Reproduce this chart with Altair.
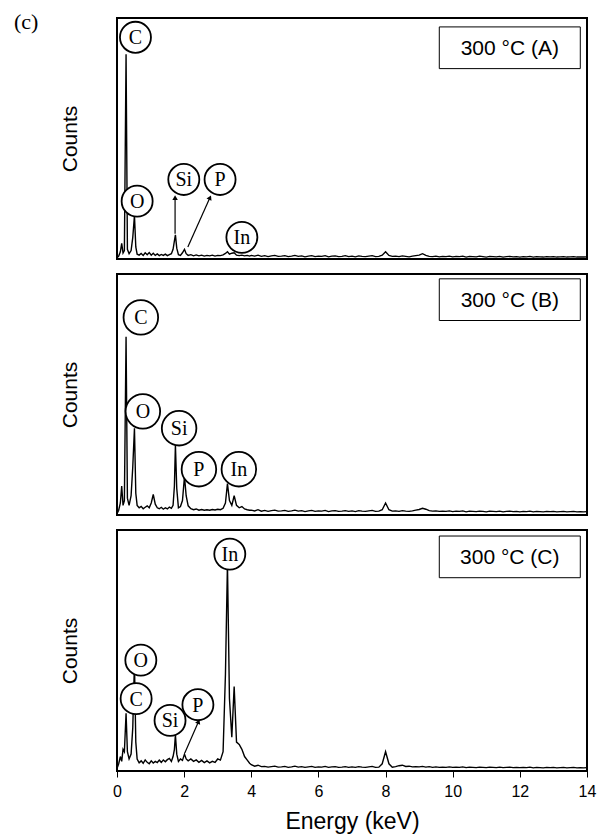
import math
import altair as alt
import pandas as pd

# ---------------- spectrum data ----------------
# Energy channels (keV): dense region below 4 keV, then 0.1 keV steps.
LOW_E = [0.00, 0.05, 0.10, 0.14, 0.18, 0.22, 0.27, 0.31, 0.36, 0.42,
         0.47, 0.52, 0.56, 0.60, 0.66, 0.72, 0.78, 0.84, 0.90, 0.96,
         1.02, 1.08, 1.14, 1.20, 1.26, 1.32, 1.38, 1.44, 1.50, 1.56,
         1.62, 1.67, 1.71, 1.74, 1.78, 1.83, 1.89, 1.95, 2.01, 2.06,
         2.12, 2.20, 2.28, 2.36, 2.44, 2.52, 2.60, 2.68, 2.76, 2.84,
         2.92, 3.00, 3.08, 3.16, 3.23, 3.29, 3.35, 3.42, 3.49, 3.56,
         3.64, 3.72, 3.80, 3.88, 3.95]
TAIL_E = [4.0, 4.1, 4.2, 4.3, 4.4, 4.5, 4.6, 4.7, 4.8, 4.9,
          5.0, 5.1, 5.2, 5.3, 5.4, 5.5, 5.6, 5.7, 5.8, 5.9,
          6.0, 6.1, 6.2, 6.3, 6.4, 6.5, 6.6, 6.7, 6.8, 6.9,
          7.0, 7.1, 7.2, 7.3, 7.4, 7.5, 7.6, 7.7, 7.8, 7.9,
          8.0, 8.1, 8.2, 8.3, 8.4, 8.5, 8.6, 8.7, 8.8, 8.9,
          9.0, 9.1, 9.2, 9.3, 9.4, 9.5, 9.6, 9.7, 9.8, 9.9,
          10.0, 10.1, 10.2, 10.3, 10.4, 10.5, 10.6, 10.7, 10.8, 10.9,
          11.0, 11.1, 11.2, 11.3, 11.4, 11.5, 11.6, 11.7, 11.8, 11.9,
          12.0, 12.1, 12.2, 12.3, 12.4, 12.5, 12.6, 12.7, 12.8, 12.9,
          13.0, 13.1, 13.2, 13.3, 13.4, 13.5, 13.6, 13.7, 13.8, 13.9,
          14.0]

# Counts in % of full scale
A_LOW = [0.5, 1.2, 3.0, 6.5, 2.5, 3.5, 85, 4.0, 2.2, 3.5,
         9.0, 18, 5.0, 2.0, 1.6, 2.3, 1.5, 2.6, 1.8, 2.7,
         1.6, 2.4, 1.5, 2.1, 1.4, 1.9, 1.5, 2.0, 1.4, 1.8,
         2.2, 4.0, 7.5, 10, 4.5, 1.8, 1.5, 2.6, 4.0, 2.2,
         1.5, 1.8, 1.3, 1.7, 1.3, 1.6, 1.2, 1.5, 1.3, 1.6,
         1.2, 1.5, 1.4, 1.7, 2.3, 3.0, 2.0, 2.4, 2.6, 1.6,
         1.4, 1.6, 1.3, 1.5, 1.2]
A_TAIL = [1.5, 1.2, 1.6, 1.1, 1.4, 1.0, 1.3, 1.5, 1.1, 1.2,
          1.4, 1.0, 1.2, 1.5, 1.1, 1.3, 0.9, 1.2, 1.4, 1.0,
          1.2, 1.1, 1.4, 0.9, 1.2, 1.3, 1.0, 1.1, 1.4, 1.0,
          1.2, 0.9, 1.3, 1.1, 1.0, 1.2, 1.4, 1.0, 1.1, 1.6,
          3.0, 1.5, 1.1, 1.2, 1.0, 1.3, 1.1, 0.9, 1.2, 1.4,
          1.6, 2.2, 1.5, 1.1, 1.0, 1.2, 0.9, 1.1, 1.0, 1.2,
          0.9, 1.1, 1.0, 1.2, 0.8, 1.1, 1.0, 0.9, 1.2, 1.0,
          0.8, 1.1, 1.0, 0.9, 1.1, 0.8, 1.0, 1.1, 0.9, 1.0,
          0.8, 1.0, 0.9, 1.1, 0.8, 1.0, 0.9, 0.8, 1.0, 0.9,
          1.0, 0.8, 0.9, 1.0, 0.8, 0.9, 1.0, 0.8, 0.9, 0.8,
          0.9]

B_LOW = [0.5, 2.0, 5.0, 12, 4.0, 6.0, 74, 7.0, 4.0, 8.0,
         20, 36, 9.0, 4.0, 3.0, 3.6, 2.6, 3.2, 3.8, 3.0,
         5.0, 8.5, 4.5, 3.0, 2.6, 3.2, 2.4, 3.0, 2.5, 3.3,
         2.8, 4.0, 12, 29, 11, 3.0, 3.5, 6.0, 16, 8.0,
         3.8, 2.6, 2.2, 2.5, 2.0, 2.3, 2.0, 2.2, 2.0, 2.3,
         2.1, 2.4, 2.2, 2.8, 5.0, 13, 6.0, 4.0, 8.0, 4.0,
         3.0, 3.5, 2.5, 2.2, 2.0]
B_TAIL = [2.0, 1.7, 2.2, 1.6, 1.9, 1.5, 1.8, 2.0, 1.6, 1.7,
          1.9, 1.5, 1.7, 2.0, 1.6, 1.8, 1.4, 1.7, 1.9, 1.5,
          1.7, 1.6, 1.9, 1.4, 1.7, 1.8, 1.5, 1.6, 1.8, 1.5,
          1.7, 1.4, 1.8, 1.6, 1.5, 1.7, 1.9, 1.5, 1.6, 2.2,
          5.0, 2.2, 1.6, 1.7, 1.5, 1.8, 1.6, 1.5, 1.7, 2.0,
          2.3, 2.8, 2.4, 1.8, 1.6, 1.7, 1.5, 1.6, 1.5, 1.7,
          1.4, 1.6, 1.5, 1.7, 1.3, 1.6, 1.5, 1.4, 1.6, 1.5,
          1.3, 1.6, 1.5, 1.4, 1.6, 1.3, 1.5, 1.6, 1.4, 1.5,
          1.3, 1.5, 1.4, 1.6, 1.3, 1.5, 1.4, 1.3, 1.5, 1.4,
          1.5, 1.3, 1.4, 1.5, 1.3, 1.4, 1.5, 1.3, 1.4, 1.3,
          1.4]

C_LOW = [1.0, 3.0, 6.0, 4.0, 9.0, 8.0, 24, 8.0, 5.0, 7.0,
         18, 45, 12, 5.0, 3.4, 4.2, 3.2, 4.6, 3.6, 3.0,
         4.2, 3.3, 4.0, 3.5, 4.5, 3.6, 4.6, 3.8, 4.7, 5.2,
         4.0, 6.0, 9.0, 15, 7.0, 4.0, 5.0, 4.4, 7.0, 5.0,
         4.2, 5.0, 4.0, 4.6, 3.6, 4.4, 3.5, 4.2, 3.4, 4.0,
         3.6, 5.0, 4.5, 8.0, 40, 86, 30, 14, 35, 12,
         11, 9.0, 6.0, 4.5, 3.2]
C_TAIL = [2.6, 2.0, 2.4, 1.8, 1.9, 1.6, 1.8, 2.0, 1.6, 1.7,
          1.9, 1.5, 1.7, 2.0, 1.6, 1.8, 1.5, 1.7, 1.9, 1.5,
          1.7, 1.6, 1.9, 1.5, 1.7, 1.8, 1.5, 1.6, 1.8, 1.5,
          1.7, 1.5, 1.8, 1.6, 1.5, 1.7, 1.9, 1.5, 1.6, 3.0,
          8.0, 3.0, 1.6, 1.8, 2.2, 2.4, 1.9, 2.0, 1.7, 1.8,
          1.7, 1.9, 1.6, 1.8, 1.5, 1.7, 1.5, 1.6, 1.5, 1.7,
          1.5, 1.6, 1.5, 1.7, 1.4, 1.6, 1.5, 1.4, 1.6, 1.5,
          1.4, 1.6, 1.5, 1.4, 1.6, 1.4, 1.5, 1.6, 1.4, 1.5,
          1.4, 1.5, 1.4, 1.6, 1.3, 1.5, 1.4, 1.3, 1.5, 1.4,
          1.5, 1.3, 1.4, 1.5, 1.3, 1.4, 1.5, 1.3, 1.4, 1.3,
          1.4]

# Element labels: name, energy position (keV), height (%)
A_LABELS = [("C", 0.55, 92), ("O", 0.60, 24), ("Si", 1.99, 33), ("P", 3.07, 33), ("In", 3.72, 9)]
B_LABELS = [("C", 0.71, 82), ("O", 0.77, 43), ("Si", 1.85, 36), ("P", 2.44, 19), ("In", 3.63, 19)]
C_LABELS = [("In", 3.36, 90), ("O", 0.71, 46), ("C", 0.57, 30), ("Si", 1.58, 21), ("P", 2.41, 27.5)]

# Arrows from a peak to its label: start E, start %, end E, end %
A_ARROWS = [(1.73, 10.5, 1.73, 25.5), (2.11, 5.0, 2.77, 25.5)]
C_ARROWS = [(2.02, 7.5, 2.43, 20.5)]

# Sample tags and their boxes
TAGS = ["300 °C (A)", "300 °C (B)", "300 °C (C)"]
BOX_E = (9.6, 13.8)
BOX_TOP = [96.3, 98.0, 97.5]
BOX_H = 17.3

TICKS = [0, 2, 4, 6, 8, 10, 12, 14]

# ---------------- styling ----------------
SANS = "Liberation Sans"
SERIF = "Liberation Serif"
PANEL_W, PANEL_H = 470, 241
CIRCLE_D = {"A": 35, "B": 39, "C": 35}

xscale = alt.Scale(domain=[0, 14], nice=False, zero=False)
yscale = alt.Scale(domain=[0, 100], nice=False, zero=False)

yaxis = alt.Axis(title="Counts", labels=False, ticks=False, domain=False, grid=False,
                 titleFont=SANS, titleFontSize=21, titleFontWeight="normal",
                 titleColor="black", titlePadding=37)
xaxis_bottom = alt.Axis(values=TICKS, format="d", title="Energy (keV)", grid=False, domain=False,
                        tickSize=6, tickColor="black", tickWidth=1,
                        labelFont=SANS, labelFontSize=16, labelColor="black",
                        labelPadding=6, labelFlush=False,
                        titleFont=SANS, titleFontSize=23, titleFontWeight="normal",
                        titleColor="black", titlePadding=11)


def panel(key, counts, labels, arrows, tag, box_top, bottom=False, mark_c=False):
    xa = xaxis_bottom if bottom else None
    X = lambda f: alt.X(f, type="quantitative", scale=xscale, axis=xa)
    Y = lambda f: alt.Y(f, type="quantitative", scale=yscale, axis=yaxis)

    spec = pd.DataFrame({"E": LOW_E + TAIL_E, "I": counts})
    line = alt.Chart(spec).mark_line(color="black", strokeWidth=1.4, clip=True).encode(
        x=X("E"), y=Y("I"))

    layers = [line]

    if arrows:
        adf = pd.DataFrame(arrows, columns=["E", "I", "E2", "I2"])
        # direction of each arrow in screen pixels
        adf["ang"] = [math.degrees(math.atan2((e2 - e1) * PANEL_W / 14, (i2 - i1) * PANEL_H / 100))
                      for e1, i1, e2, i2 in arrows]
        shafts = alt.Chart(adf).mark_rule(color="black", strokeWidth=1.2).encode(
            x=X("E"), y=Y("I"), x2="E2", y2="I2")
        heads = alt.Chart(adf).mark_point(shape="triangle-up", filled=True, color="black",
                                          size=30, opacity=1).encode(
            x=X("E2"), y=Y("I2"), angle=alt.Angle("ang:Q", scale=None))
        layers += [shafts, heads]

    ldf = pd.DataFrame(labels, columns=["name", "E", "I"])
    d = CIRCLE_D[key]
    circles = alt.Chart(ldf).mark_point(shape="circle", fill="white", fillOpacity=1, opacity=1,
                                        stroke="black", strokeWidth=1.8,
                                        size=math.pi * (d / 2) ** 2).encode(
        x=X("E"), y=Y("I"))
    names = alt.Chart(ldf).mark_text(font=SERIF, fontSize=20, color="black",
                                     baseline="middle", align="center", dy=1).encode(
        x=X("E"), y=Y("I"), text="name:N")
    layers += [circles, names]

    bdf = pd.DataFrame({"E": [BOX_E[0]], "E2": [BOX_E[1]], "I": [box_top], "I2": [box_top - BOX_H],
                        "Em": [(BOX_E[0] + BOX_E[1]) / 2], "Im": [box_top - BOX_H / 2], "tag": [tag]})
    box = alt.Chart(bdf).mark_rect(fill="white", stroke="black", strokeWidth=1).encode(
        x=X("E"), x2="E2", y=Y("I"), y2="I2")
    boxtext = alt.Chart(bdf).mark_text(font=SANS, fontSize=21, color="black",
                                       baseline="middle", align="center", dy=1).encode(
        x=X("Em"), y=Y("Im"), text="tag:N")
    layers += [box, boxtext]

    if mark_c:
        layers.append(alt.Chart(pd.DataFrame({"t": ["(c)"]})).mark_text(
            font=SERIF, fontSize=22, color="black", align="left", baseline="top",
            x=-103, y=-6).encode(text="t:N"))

    return alt.layer(*layers).properties(width=PANEL_W, height=PANEL_H)


chart = alt.vconcat(
    panel("A", A_LOW + A_TAIL, A_LABELS, A_ARROWS, TAGS[0], BOX_TOP[0], mark_c=True),
    panel("B", B_LOW + B_TAIL, B_LABELS, [], TAGS[1], BOX_TOP[1]),
    panel("C", C_LOW + C_TAIL, C_LABELS, C_ARROWS, TAGS[2], BOX_TOP[2], bottom=True),
    spacing=13,
).properties(
    padding={"left": 13, "top": 10, "right": 0, "bottom": 0},
    background="white",
).configure_view(stroke="black", strokeWidth=2)

chart.save("out.html", embed_options={"renderer": "svg", "actions": False})
